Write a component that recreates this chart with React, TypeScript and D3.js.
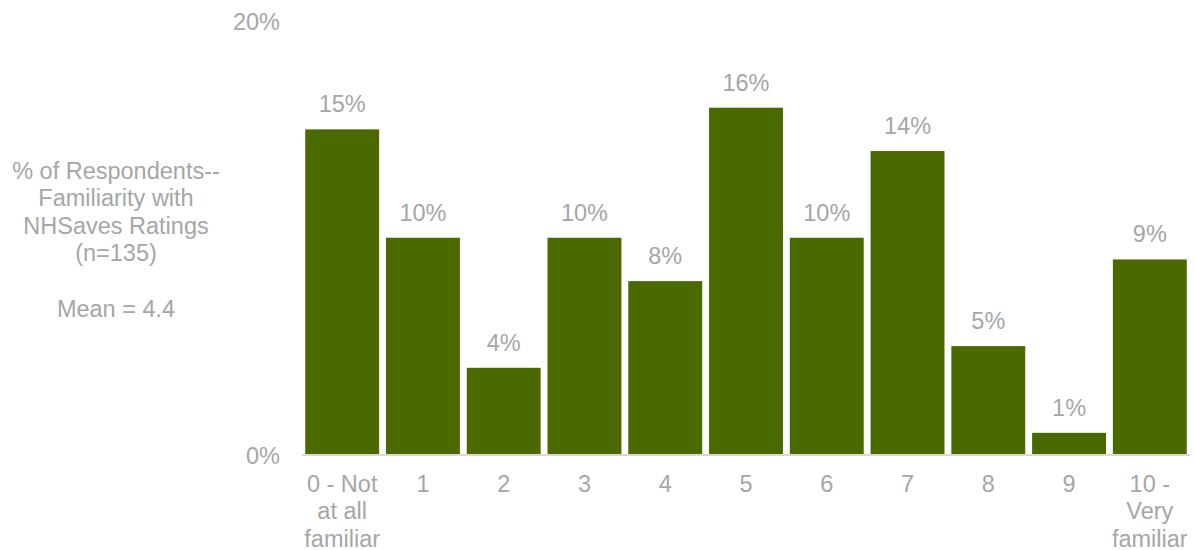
import React from "react";
import * as d3 from "d3";

const categories: string[][] = [
  ["0 - Not", "at all", "familiar"],
  ["1"], ["2"], ["3"], ["4"], ["5"], ["6"], ["7"], ["8"], ["9"],
  ["10 -", "Very", "familiar"],
];
const values: number[] = [15, 10, 4, 10, 8, 16, 10, 14, 5, 1, 9];
const yTicks: number[] = [0, 20];
const titleLines: string[] = ["% of Respondents--", "Familiarity with", "NHSaves Ratings", "(n=135)", "", "Mean = 4.4"];

const W = 1195, H = 550;
const left = 302, right = 1190, top = 21, bottom = 454.5;
const textColor = "#a6a6a6";
const barColor = "#4a6a00";
const font = "Liberation Sans, Arial, sans-serif";
const fs = 23.5;

export default function App() {
  const keys = categories.map((_, i) => String(i));
  const x = d3.scaleBand<string>().domain(keys).range([left, right]).paddingInner(0.085).paddingOuter(0.04);
  const y = d3.scaleLinear().domain([0, 20]).range([bottom, top]);
  return (
    <svg width={W} height={H} style={{ position: "absolute", left: 0, top: 0 }} fontFamily={font}>
      {values.map((v, i) => (
        <g key={i}>
          <rect x={x(String(i))} y={y(v)} width={x.bandwidth()} height={y(0) - y(v)} fill={barColor} />
          <text x={x(String(i))! + x.bandwidth() / 2} y={y(v) - 17} textAnchor="middle" fontSize={fs} fill={textColor}>{v}%</text>
          {categories[i].map((line, j) => (
            <text key={j} x={x(String(i))! + x.bandwidth() / 2} y={491.5 + j * 27.7} textAnchor="middle" fontSize={fs} fill={textColor}>{line}</text>
          ))}
        </g>
      ))}
      <line x1={left} x2={right} y1={bottom + 0.5} y2={bottom + 0.5} stroke="#d9d9d9" strokeWidth={2} />
      {yTicks.map((t) => (
        <text key={t} x={280} y={y(t) + 9} textAnchor="end" fontSize={fs} fill={textColor}>{t}%</text>
      ))}
      {titleLines.map((l, i) => (
        <text key={i} x={116} y={178.5 + i * 27.6} textAnchor="middle" fontSize={fs} fill={textColor}>{l}</text>
      ))}
    </svg>
  );
}
